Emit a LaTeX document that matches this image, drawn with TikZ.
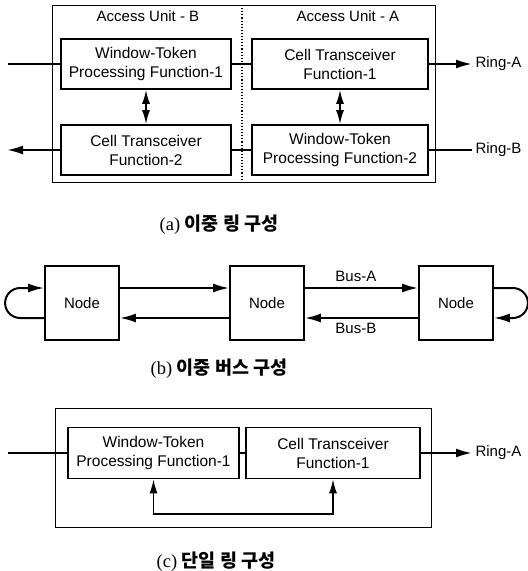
\documentclass[tikz,border=0pt]{standalone}
\usepackage{fontspec}
\setmainfont{Liberation Serif}
\newfontfamily\boxfont{Liberation Sans}
\newfontfamily\cjk{Noto Sans CJK KR}
\usetikzlibrary{positioning, arrows.meta, calc}

\begin{document}
\begin{tikzpicture}[x=1pt, y=-1pt,
    fnbox/.style={draw, line width=1.7pt, align=center, minimum height=50pt,
      inner sep=0pt, font=\boxfont\fontsize{15.5}{19}\selectfont},
    nodebox/.style={draw, line width=1.8pt, minimum width=74pt, minimum height=74pt,
      font=\boxfont\fontsize{15}{18}\selectfont},
    frame/.style={draw, line width=0.9pt, inner sep=0pt},
    txt/.style={font=\boxfont\fontsize{15}{18}\selectfont},
    ringline/.style={line width=2.2pt},
    busline/.style={line width=2pt},
    arrowend/.style={-{Latex[length=16pt,width=9pt]}},
    twoway/.style={line width=1.6pt, {Latex[length=14pt,width=8pt]}-{Latex[length=14pt,width=8pt]}},
    caption/.style={font=\fontsize{18.5}{20}\selectfont}]
  \useasboundingbox (0,0) rectangle (528,571);

  % ---- (a) DUAL RING ----
  \node[frame, minimum width=383pt, minimum height=177pt] (dualring) at (243.5,93.5) {};
  \coordinate (divtop) at (242,5);
  \coordinate (divbot) at (242,182);
  \draw[dotted, line width=1.1pt] (divtop) -- (divbot);

  \node[txt] (titleB) at (148,16) {Access Unit - B};
  \node[txt] (titleA) at (348,16) {Access Unit - A};

  \node[fnbox, minimum width=170pt] (wtpfB) at (146,64) {Window-Token\\Processing Function-1};
  \node[fnbox, minimum width=176pt] (ctfA) at (340,64) {Cell Transceiver\\Function-1};
  \node[fnbox, minimum width=170pt] (ctfB) at (146,150) {Cell Transceiver\\Function-2};
  \node[fnbox, minimum width=176pt] (wtpfA) at (340,150) {Window-Token\\Processing Function-2};

  \coordinate (ringAin) at (8,64);
  \coordinate (ringBout) at (7,150);
  \node[txt, anchor=west] (ringA) at (472,64) {Ring-A};
  \node[txt, anchor=west] (ringB) at (472,150) {Ring-B};

  \draw[ringline] (ringAin) -- (wtpfB);
  \draw[ringline] (wtpfB) -- (ctfA);
  \draw[ringline, arrowend] (ctfA) -- (ringA);
  \draw[ringline] (ringB) -- (wtpfA);
  \draw[ringline] (wtpfA) -- (ctfB);
  \draw[ringline, arrowend] (ctfB) -- (ringBout);
  \draw[twoway] (wtpfB) -- (ctfB);
  \draw[twoway] (ctfA) -- (wtpfA);

  \node[caption] (capA) at (219,225) {(a) {\cjk\bfseries 이중 링 구성}};

  % ---- (b) DUAL BUS ----
  \node[nodebox] (leftnode) at (82,303) {Node};
  \node[nodebox] (midnode) at (267,303) {Node};
  \node[nodebox] (rightnode) at (456,303) {Node};

  \draw[busline, arrowend] ($(leftnode.east)+(0,-15)$) -- ($(midnode.west)+(0,-15)$);
  \draw[busline, arrowend] ($(midnode.east)+(0,-15)$) -- node[txt, above=2pt, pos=0.45] (busA) {Bus-A} ($(rightnode.west)+(0,-15)$);
  \draw[busline, arrowend] ($(midnode.west)+(0,15)$) -- ($(leftnode.east)+(0,15)$);
  \draw[busline, arrowend] ($(rightnode.west)+(0,15)$) -- node[txt, below=1pt, pos=0.55] (busB) {Bus-B} ($(midnode.east)+(0,15)$);

  % loops at both ends
  \draw[busline, arrowend] ($(leftnode.west)+(0,15)$) -- ++(-24,0)
    arc[start angle=90, end angle=270, radius=15] -- ($(leftnode.west)+(0,-15)$);
  \draw[busline, arrowend] ($(rightnode.east)+(0,-15)$) -- ++(19,0)
    arc[start angle=-90, end angle=90, radius=15] -- ($(rightnode.east)+(0,15)$);

  \node[caption] (capB) at (219,369) {(b) {\cjk\bfseries 이중 버스 구성}};

  % ---- (c) SINGLE RING ----
  \node[frame, minimum width=376pt, minimum height=119pt] (singlering) at (243,467.5) {};
  \node[fnbox, minimum width=171pt, minimum height=51pt] (wtpf) at (153.5,453) {Window-Token\\Processing Function-1};
  \node[fnbox, minimum width=174pt, minimum height=51pt] (ctf) at (333,453) {Cell Transceiver\\Function-1};

  \coordinate (ringCin) at (8,453);
  \coordinate (fbbase) at (0,514);
  \node[txt, anchor=west] (ringC) at (472,453) {Ring-A};

  \draw[ringline] (ringCin) -- (wtpf);
  \draw[ringline] (wtpf) -- (ctf);
  \draw[ringline, arrowend] (ctf) -- (ringC);
  \draw[line width=1.5pt, {Latex[length=14pt,width=8pt]}-{Latex[length=14pt,width=8pt]}]
    (wtpf.south) -- (wtpf.south |- fbbase) -| (ctf.south);

  \node[caption] (capC) at (216,562) {(c) {\cjk\bfseries 단일 링 구성}};
\end{tikzpicture}
\end{document}
